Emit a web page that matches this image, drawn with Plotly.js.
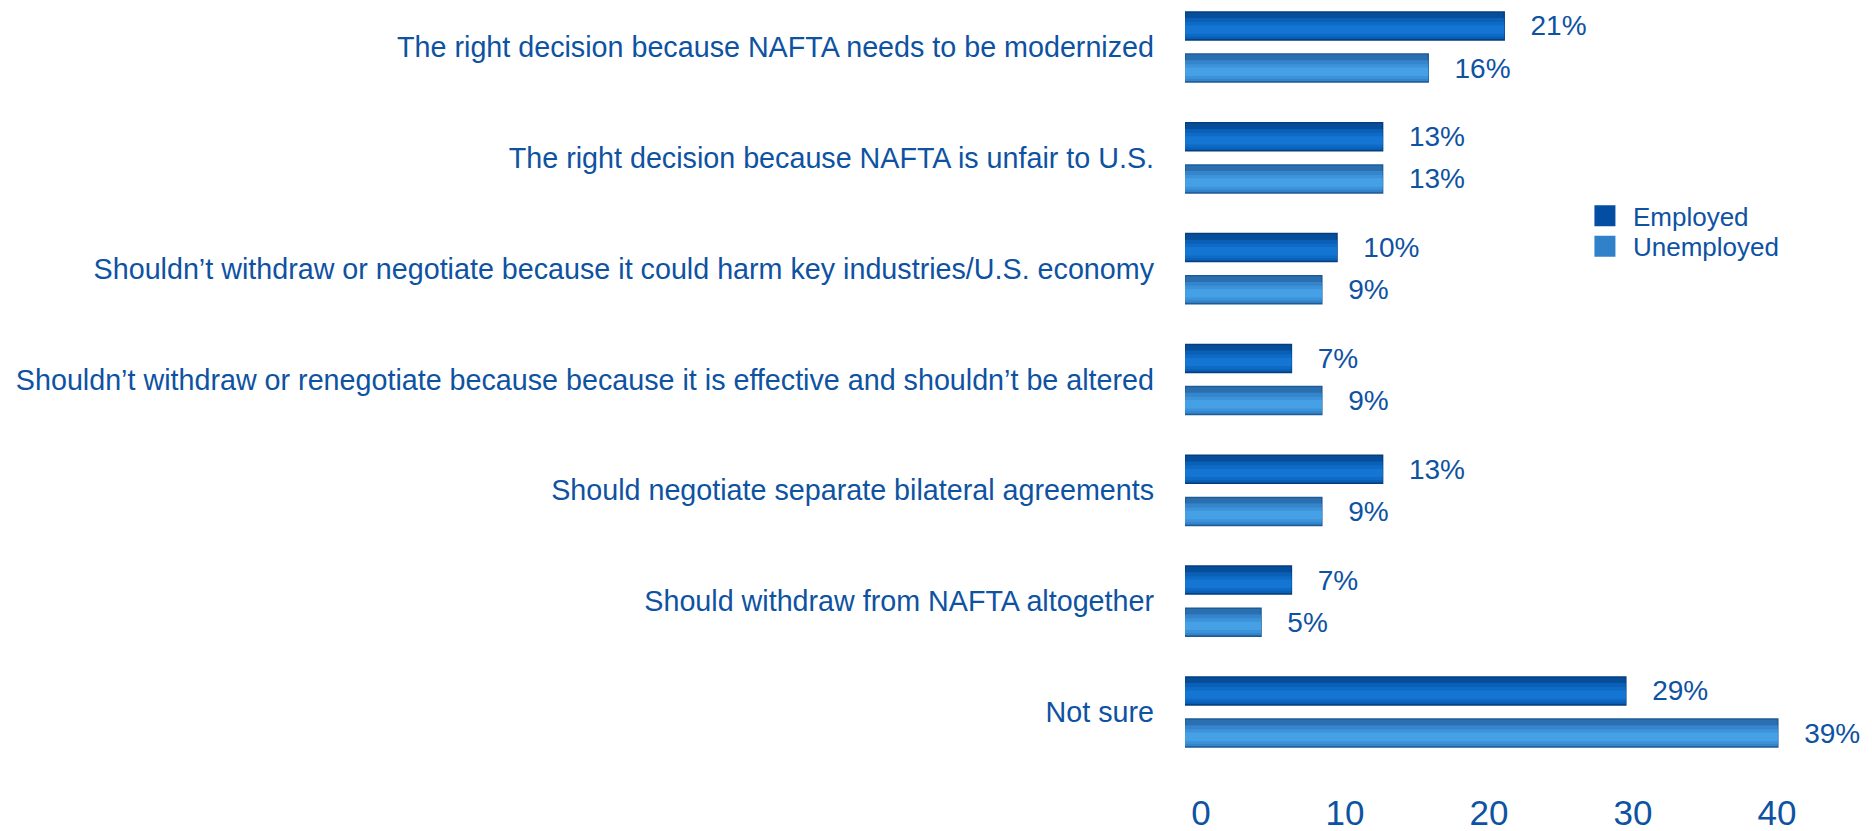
<!DOCTYPE html>
<html>
<head>
<meta charset="utf-8">
<script src="https://cdn.plot.ly/plotly-3.0.1.min.js"></script>
<style>html,body{margin:0;padding:0;background:#fff;}#chart{width:1872px;height:831px;}</style>
</head>
<body>
<div id="chart"></div>
<script>
const categories = [
  "The right decision because NAFTA needs to be modernized",
  "The right decision because NAFTA is unfair to U.S.",
  "Shouldn\u2019t withdraw or negotiate because it could harm key industries/U.S. economy",
  "Shouldn\u2019t withdraw or renegotiate because because it is effective and shouldn\u2019t be altered",
  "Should negotiate separate bilateral agreements",
  "Should withdraw from NAFTA altogether",
  "Not sure"
];
const employed = [21, 13, 10, 7, 13, 7, 29];
const unemployed = [16, 13, 9, 9, 9, 5, 39];
const xTicks = [0, 10, 20, 30, 40];
const seriesNames = ["Employed", "Unemployed"];

const textColor = "#0E52A2";
const fontFam = "Arial, Liberation Sans, sans-serif";
const pad = "\u00a0\u00a0\u00a0";

// bar geometry in category units (style only)
const barH = 0.2527;
const offsets = [-0.3164, 0.0637];

// shading layers: [start fraction, end fraction, color]
const shadeEmployed = [[0.22, 0.96, "#0A5FB6"], [0.36, 0.88, "#0D6AC5"], [0.48, 0.78, "#1476D2"]];
const shadeUnemployed = [[0.22, 0.96, "#3485CB"], [0.36, 0.88, "#3C93D9"], [0.48, 0.78, "#46A0E6"]];

function cylinder(name, vals, off, main, edge, shades) {
  const base = {
    type: "bar", orientation: "h", name: name, showlegend: false,
    y: categories, x: vals, hoverinfo: "skip"
  };
  const out = [Object.assign({}, base, {
    offset: off, width: barH,
    text: vals.map(v => pad + v + "%"),
    textposition: "outside", cliponaxis: false, constraintext: "none",
    textfont: {family: fontFam, size: 28, color: textColor},
    marker: {color: main, line: {color: edge, width: 1.5}}
  })];
  shades.forEach(s => {
    out.push(Object.assign({}, base, {
      offset: off + s[0] * barH, width: (s[1] - s[0]) * barH,
      marker: {color: s[2], line: {width: 0}}
    }));
  });
  return out;
}
function legendTrace(name, color, legendId) {
  return {
    type: "scatter", mode: "markers", name: name, legend: legendId,
    x: [null], y: [null], xaxis: "x2", yaxis: "y",
    marker: {symbol: "square", size: 16, color: color, line: {color: color, width: 5}},
    hoverinfo: "skip"
  };
}

const data = [].concat(
  cylinder(seriesNames[0], employed, offsets[0], "#064E9A", "#053F80", shadeEmployed),
  cylinder(seriesNames[1], unemployed, offsets[1], "#2A70B0", "#1F5C96", shadeUnemployed),
  [legendTrace(seriesNames[0], "#034EA2", "legend"),
   legendTrace(seriesNames[1], "#2F82CA", "legend2")]
);

function legendBox(yc) {
  return {
    x: 0.573, y: yc, xanchor: "left", yanchor: "middle",
    font: {size: 26, color: textColor, family: fontFam}, bgcolor: "rgba(0,0,0,0)",
    itemwidth: 46
  };
}

const layout = {
  width: 1872, height: 831,
  paper_bgcolor: "#ffffff", plot_bgcolor: "#ffffff",
  margin: {l: 1185, r: 3, t: 0, b: 71},
  barmode: "overlay",
  font: {family: fontFam, color: textColor},
  xaxis: {
    range: [0, 45], showticklabels: false,
    showgrid: false, zeroline: false, showline: false, ticks: ""
  },
  xaxis2: {
    overlaying: "x", side: "bottom",
    range: [-1.11, 46.39], tickvals: xTicks, ticktext: xTicks.map(String),
    showgrid: false, zeroline: false, showline: false, ticks: "",
    tickfont: {size: 35, color: textColor, family: fontFam}, ticklabelstandoff: 29
  },
  yaxis: {
    range: [6.433, -0.424], type: "category",
    showgrid: false, zeroline: false, showline: false, ticks: "",
    tickfont: {size: 28.7, color: textColor}, ticklabelstandoff: 30
  },
  legend: legendBox(0.716),
  legend2: legendBox(0.676),
  showlegend: true
};

Plotly.newPlot("chart", data, layout, {displayModeBar: false, staticPlot: true});
</script>
</body>
</html>
